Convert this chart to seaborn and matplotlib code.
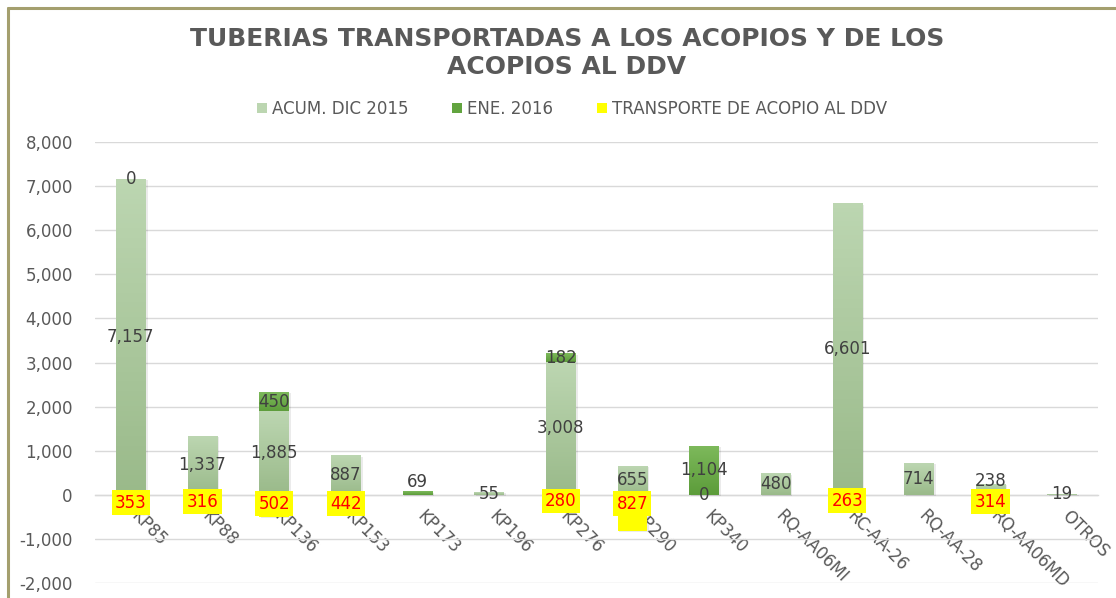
import numpy as np
import pandas as pd
import matplotlib
matplotlib.use("Agg")
import matplotlib.pyplot as plt
import matplotlib.transforms as mtransforms
import seaborn as sns
from matplotlib.patches import Rectangle
from matplotlib.lines import Line2D
from matplotlib.colors import LinearSegmentedColormap

# ---------------- data ----------------
categories = ["KP85", "KP88", "KP136", "KP153", "KP173", "KP196", "KP276",
              "KP290", "KP340", "RQ-AA06MI", "RC-AA-26", "RQ-AA-28",
              "RQ-AA06MD", "OTROS"]
acum_dic_2015 = [7157, 1337, 1885, 887, np.nan, 55, 3008, 655, 0, 480,
                 6601, 714, 238, 19]
ene_2016 = [0, np.nan, 450, np.nan, 69, np.nan, 182, np.nan, 1104, np.nan,
            np.nan, np.nan, np.nan, np.nan]
transporte_ddv = [353, 316, 502, 442, np.nan, np.nan, 280, 827, np.nan,
                  np.nan, 263, np.nan, 314, np.nan]
series_names = ["ACUM. DIC 2015", "ENE. 2016", "TRANSPORTE DE ACOPIO AL DDV"]
y_ticks = [-2000, -1000, 0, 1000, 2000, 3000, 4000, 5000, 6000, 7000, 8000]
title = "TUBERIAS TRANSPORTADAS A LOS ACOPIOS Y DE LOS\nACOPIOS AL DDV"

# ---------------- styling ----------------
sns.set_theme(style="white")
plt.rcParams["font.family"] = ["DejaVu Sans"]

ACUM_TOP, ACUM_BOT = "#BCD6B1", "#9ABA8A"
ENE_TOP, ENE_BOT = "#7DB95B", "#5C9C3A"
YELLOW = "#FFFF00"
GRID = "#D9D9D9"
TXT = "#595959"
LBL = "#404040"

df = pd.DataFrame({
    "cat": categories,
    "acum": acum_dic_2015,
    "ene": ene_2016,
    "transp": transporte_ddv,
})
df["acum0"] = df["acum"].fillna(0)
df["ene0"] = df["ene"].fillna(0)
df["total"] = df["acum0"] + df["ene0"]
df["neg"] = -df["transp"].fillna(0)

fig = plt.figure(figsize=(11.16, 5.98), dpi=100)
ax = fig.add_axes([95 / 1116, 15 / 598, (1098 - 95) / 1116, (583 - 142) / 598])

bw = 0.41
common = dict(data=df, x="cat", width=bw, ax=ax, saturation=1,
              errorbar=None, linewidth=0)
sns.barplot(y="total", color=ENE_BOT, zorder=2, **common)
sns.barplot(y="acum0", color=ACUM_BOT, zorder=3, **common)
sns.barplot(y="neg", color=YELLOW, zorder=4, **common)

# gradient fills on the green bars
grad = np.linspace(1, 0, 64).reshape(-1, 1)
cm_acum = LinearSegmentedColormap.from_list("acum", [ACUM_BOT, ACUM_TOP])
cm_ene = LinearSegmentedColormap.from_list("ene", [ENE_BOT, ENE_TOP])
for i, p in enumerate(ax.containers[0]):
    x0, w = p.get_x(), p.get_width()
    lo, hi = df["acum0"][i], df["total"][i]
    if hi - lo > 0:
        ax.imshow(grad, extent=[x0, x0 + w, lo, hi], aspect="auto",
                  cmap=cm_ene, vmin=0, vmax=1, zorder=2.5)
for p in ax.containers[1]:
    x0, w, h = p.get_x(), p.get_width(), p.get_height()
    if h > 0:
        ax.imshow(grad, extent=[x0, x0 + w, 0, h], aspect="auto",
                  cmap=cm_acum, vmin=0, vmax=1, zorder=3.5)

# subtle shadows
for cont, z in ((ax.containers[0], 1.9), (ax.containers[2], 1.9)):
    for p in cont:
        h = p.get_height()
        if h != 0:
            ax.add_patch(Rectangle((p.get_x() + 0.02, p.get_y() - 20),
                                   p.get_width() + 0.01, h, fc="#000000",
                                   alpha=0.08, lw=0, zorder=z))

# ---------------- data labels ----------------
for i in range(len(categories)):
    a, e, t = df["acum"][i], df["ene"][i], df["transp"][i]
    if not np.isnan(a):
        y = a / 2
        if not np.isnan(t):
            y = max(y, 320)
        ax.text(i, y, f"{int(a):,}", ha="center", va="center",
                fontsize=12, color=LBL, zorder=6)
    if not np.isnan(e):
        base = df["acum0"][i]
        y = base + e / 2 if e > 0 else base
        if e > 0:
            y = max(y, 300)
        ax.text(i, y, f"{int(e):,}", ha="center", va="center",
                fontsize=12, color=LBL, zorder=6)
    if not np.isnan(t):
        y = -min(t / 2, 200)
        ax.text(i, y, f"{int(t):,}", ha="center", va="center",
                fontsize=12, color="#FF0000", zorder=7,
                bbox=dict(boxstyle="square,pad=0.2", fc=YELLOW, ec="none"))

# ---------------- axes ----------------
ax.set_ylim(-2000, 8000)
ax.set_xlim(-0.5, len(categories) - 0.5)
ax.set_yticks(y_ticks)
ax.set_yticklabels([f"{v:,}" for v in y_ticks], fontsize=12, color=TXT)
ax.yaxis.grid(True, color=GRID, lw=1, zorder=0)
ax.set_axisbelow(True)
for s in ("top", "right", "left"):
    ax.spines[s].set_visible(False)
ax.spines["bottom"].set_position(("data", 0))
ax.spines["bottom"].set_color(GRID)
ax.spines["bottom"].set_linewidth(1)
ax.spines["bottom"].set_zorder(1)
ax.tick_params(axis="y", length=0, pad=16)
ax.tick_params(axis="x", length=0, pad=8)
ax.set_xticks(range(len(categories)))
ax.set_xticklabels(categories, rotation=-45, ha="left", va="top",
                   rotation_mode="anchor", fontsize=12, color=TXT)
offset = mtransforms.ScaledTranslation(9 / 100, -1 / 100, fig.dpi_scale_trans)
for lbl in ax.get_xticklabels():
    lbl.set_zorder(5)
    lbl.set_transform(lbl.get_transform() + offset)
ax.set_xlabel("")
ax.set_ylabel("")

# ---------------- title & legend ----------------
fig.text(567 / 1116, 1 - 53 / 598, title, ha="center", va="center",
         fontsize=18, fontweight="bold", color=TXT, linespacing=1.2)

handles = [Rectangle((0, 0), 1, 1, fc=ACUM_TOP, ec="none"),
           Rectangle((0, 0), 1, 1, fc="#62A43F", ec="none"),
           Rectangle((0, 0), 1, 1, fc=YELLOW, ec="none")]
fig.legend(handles, series_names, loc="center",
           bbox_to_anchor=(572 / 1116, 1 - 109 / 598), ncol=3, frameon=False,
           fontsize=12, handlelength=0.6, handleheight=0.6,
           handletextpad=0.3, columnspacing=2.6, labelcolor=TXT)

# chart border (left & top visible in the crop)
bc = "#A49F6E"
fig.add_artist(Line2D([8 / 1116, 8 / 1116], [0, 1 - 8 / 598],
                      transform=fig.transFigure, color=bc, lw=2.2))
fig.add_artist(Line2D([8 / 1116, 1], [1 - 8 / 598, 1 - 8 / 598],
                      transform=fig.transFigure, color=bc, lw=2.2))

fig.savefig("out.png", dpi=100)
